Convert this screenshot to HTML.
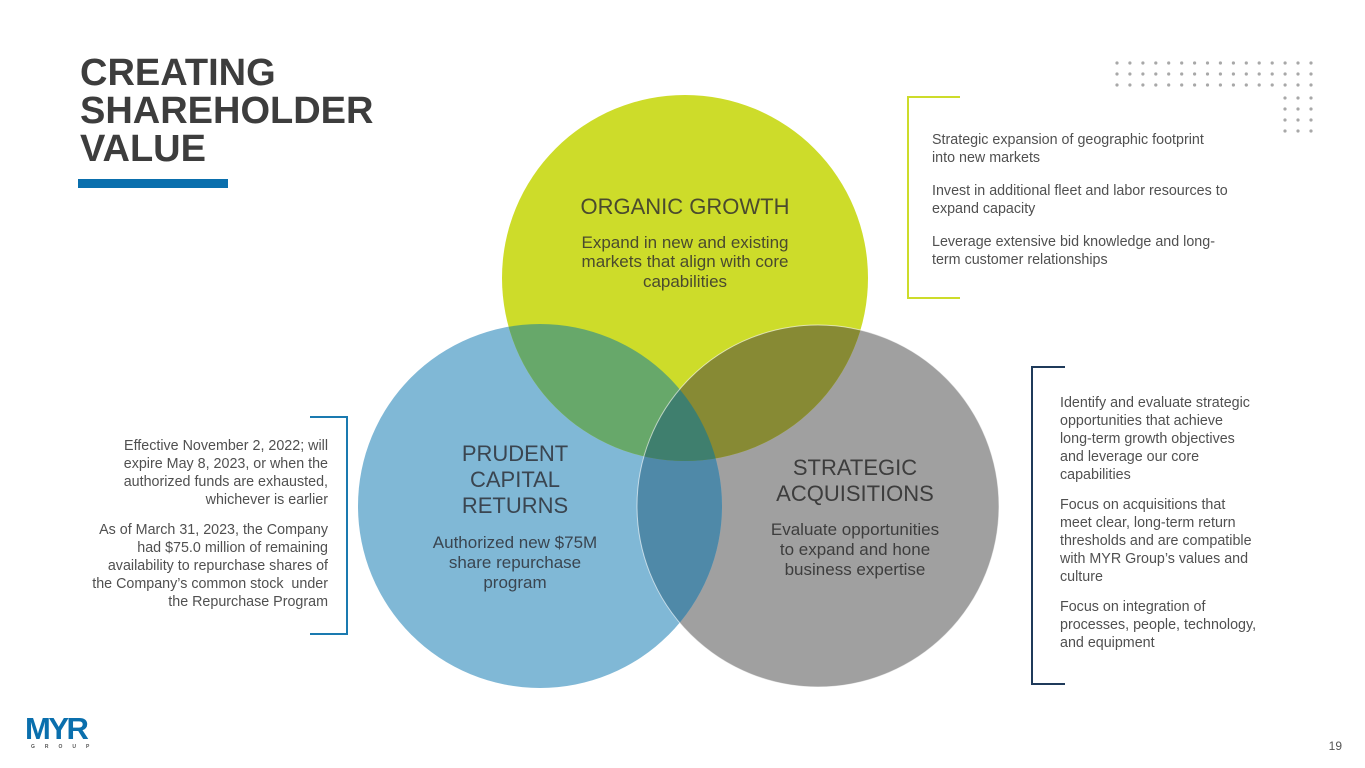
<!DOCTYPE html>
<html><head><meta charset="utf-8"><style>
body{margin:0;width:1365px;height:768px;background:#fff;position:relative;overflow:hidden;font-family:"Liberation Sans",sans-serif}
.abs{position:absolute}
.title{left:80px;top:54px;font-size:38px;font-weight:bold;line-height:38px;color:#3d3d3d;letter-spacing:0px}
.side{font-size:14.3px;line-height:18px;color:#505050}
.side p{margin:0 0 12px 0}
</style></head><body>
<div class="abs title">CREATING<br>SHAREHOLDER<br>VALUE</div>
<div class="abs" style="left:78px;top:179px;width:150px;height:9px;background:#0a6fad"></div>

<svg class="abs" style="left:0;top:0" width="1365" height="768">
<defs>
<clipPath id="cy"><circle cx="685" cy="278" r="183"/></clipPath>
<clipPath id="cb"><circle cx="540" cy="506" r="182"/></clipPath>
<clipPath id="cg"><circle cx="818" cy="506" r="181"/></clipPath>
</defs>
<circle cx="818" cy="506" r="181" fill="#a0a0a0"/>
<circle cx="540" cy="506" r="182" fill="#80b8d6"/>
<circle cx="685" cy="278" r="183" fill="#cddc2a"/>
<g clip-path="url(#cb)"><circle cx="818" cy="506" r="181" fill="#4f89a8"/></g>
<g clip-path="url(#cy)"><circle cx="540" cy="506" r="182" fill="#67a86a"/><circle cx="818" cy="506" r="181" fill="#878a34"/>
<g clip-path="url(#cb)"><circle cx="818" cy="506" r="181" fill="#3f7f6e"/></g></g>
<circle cx="818" cy="506" r="181" fill="none" stroke="#fff" stroke-width="1" opacity=".6"/>
<g font-family="Liberation Sans,sans-serif" text-anchor="middle">
<text x="685" y="214" font-size="22" fill="#4a4a2e">ORGANIC GROWTH</text>
<g font-size="17" fill="#4a4a2e"><text x="685" y="248">Expand in new and existing</text><text x="685" y="267">markets that align with core</text><text x="685" y="287">capabilities</text></g>
<g font-size="22" fill="#3a4550"><text x="515" y="461">PRUDENT</text><text x="515" y="487">CAPITAL</text><text x="515" y="513">RETURNS</text></g>
<g font-size="17" fill="#3a4550"><text x="515" y="548">Authorized new $75M</text><text x="515" y="568">share repurchase</text><text x="515" y="588">program</text></g>
<g font-size="22" fill="#3d3d3d"><text x="855" y="475">STRATEGIC</text><text x="855" y="501">ACQUISITIONS</text></g>
<g font-size="17" fill="#3d3d3d"><text x="855" y="535">Evaluate opportunities</text><text x="855" y="555">to expand and hone</text><text x="855" y="575">business expertise</text></g>
</g>
<path d="M960 97H908V298H960" fill="none" stroke="#cddc2a" stroke-width="2"/>
<path d="M1065 367H1032V684H1065" fill="none" stroke="#1f3a5a" stroke-width="2"/>
<path d="M310 417H347V634H310" fill="none" stroke="#1a7ab0" stroke-width="2"/>
<g fill="#a8a8a8" id="dots"></g>
<g font-family="Liberation Sans,sans-serif" font-weight="bold" fill="#0a6fad">
<text x="25" y="739" font-size="31" letter-spacing="-2.5">MYR</text>
<text x="31" y="748" font-size="5" letter-spacing="10" fill="#555">GROUP</text>
</g>
<text x="1342" y="750" font-size="12" fill="#555" text-anchor="end" font-family="Liberation Sans,sans-serif">19</text>
</svg>

<div class="abs side" style="left:932px;top:131px;width:340px">
<p style="margin-bottom:15px">Strategic expansion of geographic footprint<br>into new markets</p>
<p style="margin-bottom:15px">Invest in additional fleet and labor resources to<br>expand capacity</p>
<p>Leverage extensive bid knowledge and long-<br>term customer relationships</p>
</div>
<div class="abs side" style="left:1060px;top:394px;width:240px">
<p>Identify and evaluate strategic<br>opportunities that achieve<br>long-term growth objectives<br>and leverage our core<br>capabilities</p>
<p>Focus on acquisitions that<br>meet clear, long-term return<br>thresholds and are compatible<br>with MYR Group’s values and<br>culture</p>
<p>Focus on integration of<br>processes, people, technology,<br>and equipment</p>
</div>
<div class="abs side" style="right:1037px;top:437px;width:300px;text-align:right">
<p>Effective November 2, 2022; will<br>expire May 8, 2023, or when the<br>authorized funds are exhausted,<br>whichever is earlier</p>
<p>As of March 31, 2023, the Company<br>had $75.0 million of remaining<br>availability to repurchase shares of<br>the Company’s common stock&nbsp; under<br>the Repurchase Program</p>
</div>
<script>
var g=document.getElementById('dots'),s='';
for(var r=0;r<3;r++)for(var c=0;c<16;c++)s+='<circle cx="'+(1117+c*12.93).toFixed(1)+'" cy="'+(63+r*11)+'" r="1.6"/>';
for(var r=0;r<4;r++)for(var c=0;c<3;c++)s+='<circle cx="'+(1285+c*13)+'" cy="'+(98+r*11)+'" r="1.6"/>';
g.innerHTML=s;
</script>
</body></html>
